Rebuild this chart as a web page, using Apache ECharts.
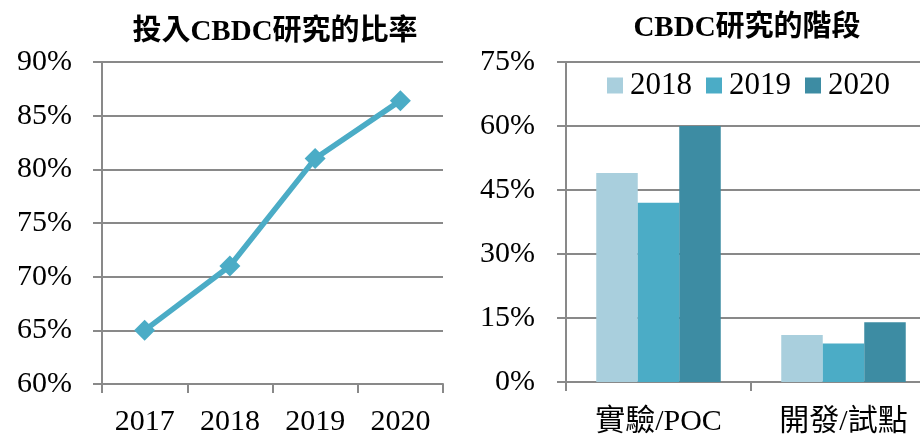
<!DOCTYPE html>
<html>
<head>
<meta charset="utf-8">
<script src="https://cdn.jsdelivr.net/npm/echarts@6/dist/echarts.min.js"></script>
<style>
  html, body { margin: 0; padding: 0; background: #fff; }
  #chart { width: 920px; height: 435px; }
</style>
</head>
<body>
<div id="chart"></div>
<script>
// Share of central banks engaged in CBDC work, by year (%)
const years = ['2017', '2018', '2019', '2020'];
const engagedShare = [65, 71, 81, 86.4];

// Stage of CBDC work (%), per survey year
const stages = ['實驗/POC', '開發/試點'];
const stage2018 = [49, 11];
const stage2019 = [42, 9];
const stage2020 = [60, 14];

const leftTitle = '投入CBDC研究的比率';
const rightTitle = 'CBDC研究的階段';

const serif = "'Liberation Serif', 'Times New Roman', 'Noto Sans CJK TC', serif";
const gridGray = '#898989';
const lineBlue = '#4BACC6';
const barColors = ['#A9CFDD', '#4BACC6', '#3D8CA3'];

const axisText = { color: '#000', fontFamily: serif, fontSize: 30 };

const chart = echarts.init(document.getElementById('chart'), null, { renderer: 'canvas' });

chart.setOption({
  backgroundColor: '#fff',
  animation: false,
  title: [
    {
      text: leftTitle, left: 270, top: 13, textAlign: 'center',
      textStyle: { fontFamily: serif, fontWeight: 'bold', fontSize: 29, color: '#000' }
    },
    {
      text: rightTitle, left: 742, top: 9, textAlign: 'center',
      textStyle: { fontFamily: serif, fontWeight: 'bold', fontSize: 29, color: '#000' }
    }
  ],
  legend: {
    data: ['2018', '2019', '2020'],
    left: 607, top: 70, padding: 0,
    itemWidth: 16, itemHeight: 16, itemGap: 14,
    icon: 'rect',
    textStyle: { fontFamily: serif, fontSize: 31, color: '#000', padding: [0, 0, 0, 2] }
  },
  grid: [
    { left: 102, top: 62, right: 477, bottom: 51, outerBoundsMode: 'none', containLabel: false },
    { left: 566, top: 62, right: -16, bottom: 53, outerBoundsMode: 'none', containLabel: false }
  ],
  xAxis: [
    {
      gridIndex: 0, type: 'category', data: years, boundaryGap: true,
      axisLine: { lineStyle: { color: gridGray, width: 2 } },
      axisTick: { show: true, length: 9, lineStyle: { color: gridGray, width: 2 } },
      axisLabel: Object.assign({ margin: 23 }, axisText)
    },
    {
      gridIndex: 1, type: 'category', data: stages, boundaryGap: true,
      axisLine: { lineStyle: { color: gridGray, width: 2 } },
      axisTick: { show: true, length: 9, lineStyle: { color: gridGray, width: 2 } },
      axisLabel: Object.assign({ margin: 25 }, axisText)
    }
  ],
  yAxis: [
    {
      gridIndex: 0, type: 'value', min: 60, max: 90, interval: 5,
      axisLine: { show: true, lineStyle: { color: gridGray, width: 2 } },
      axisTick: { show: true, length: 9, lineStyle: { color: gridGray, width: 2 } },
      splitLine: { show: true, lineStyle: { color: gridGray, width: 2 } },
      axisLabel: Object.assign({ margin: 30, formatter: '{value}%' }, axisText)
    },
    {
      gridIndex: 1, type: 'value', min: 0, max: 75, interval: 15,
      axisLine: { show: true, lineStyle: { color: gridGray, width: 2 } },
      axisTick: { show: true, length: 9, lineStyle: { color: gridGray, width: 2 } },
      splitLine: { show: true, lineStyle: { color: gridGray, width: 2 } },
      axisLabel: Object.assign({ margin: 31, formatter: '{value}%' }, axisText)
    }
  ],
  series: [
    {
      type: 'line', xAxisIndex: 0, yAxisIndex: 0, data: engagedShare,
      symbol: 'diamond', symbolSize: 21,
      lineStyle: { color: lineBlue, width: 5.5 },
      itemStyle: { color: lineBlue },
      z: 5
    },
    {
      name: '2018', type: 'bar', xAxisIndex: 1, yAxisIndex: 1, data: stage2018,
      barWidth: 41.5, barGap: 0, itemStyle: { color: barColors[0] }
    },
    {
      name: '2019', type: 'bar', xAxisIndex: 1, yAxisIndex: 1, data: stage2019,
      barWidth: 41.5, barGap: 0, itemStyle: { color: barColors[1] }
    },
    {
      name: '2020', type: 'bar', xAxisIndex: 1, yAxisIndex: 1, data: stage2020,
      barWidth: 41.5, barGap: 0, itemStyle: { color: barColors[2] }
    }
  ]
});
</script>
</body>
</html>
